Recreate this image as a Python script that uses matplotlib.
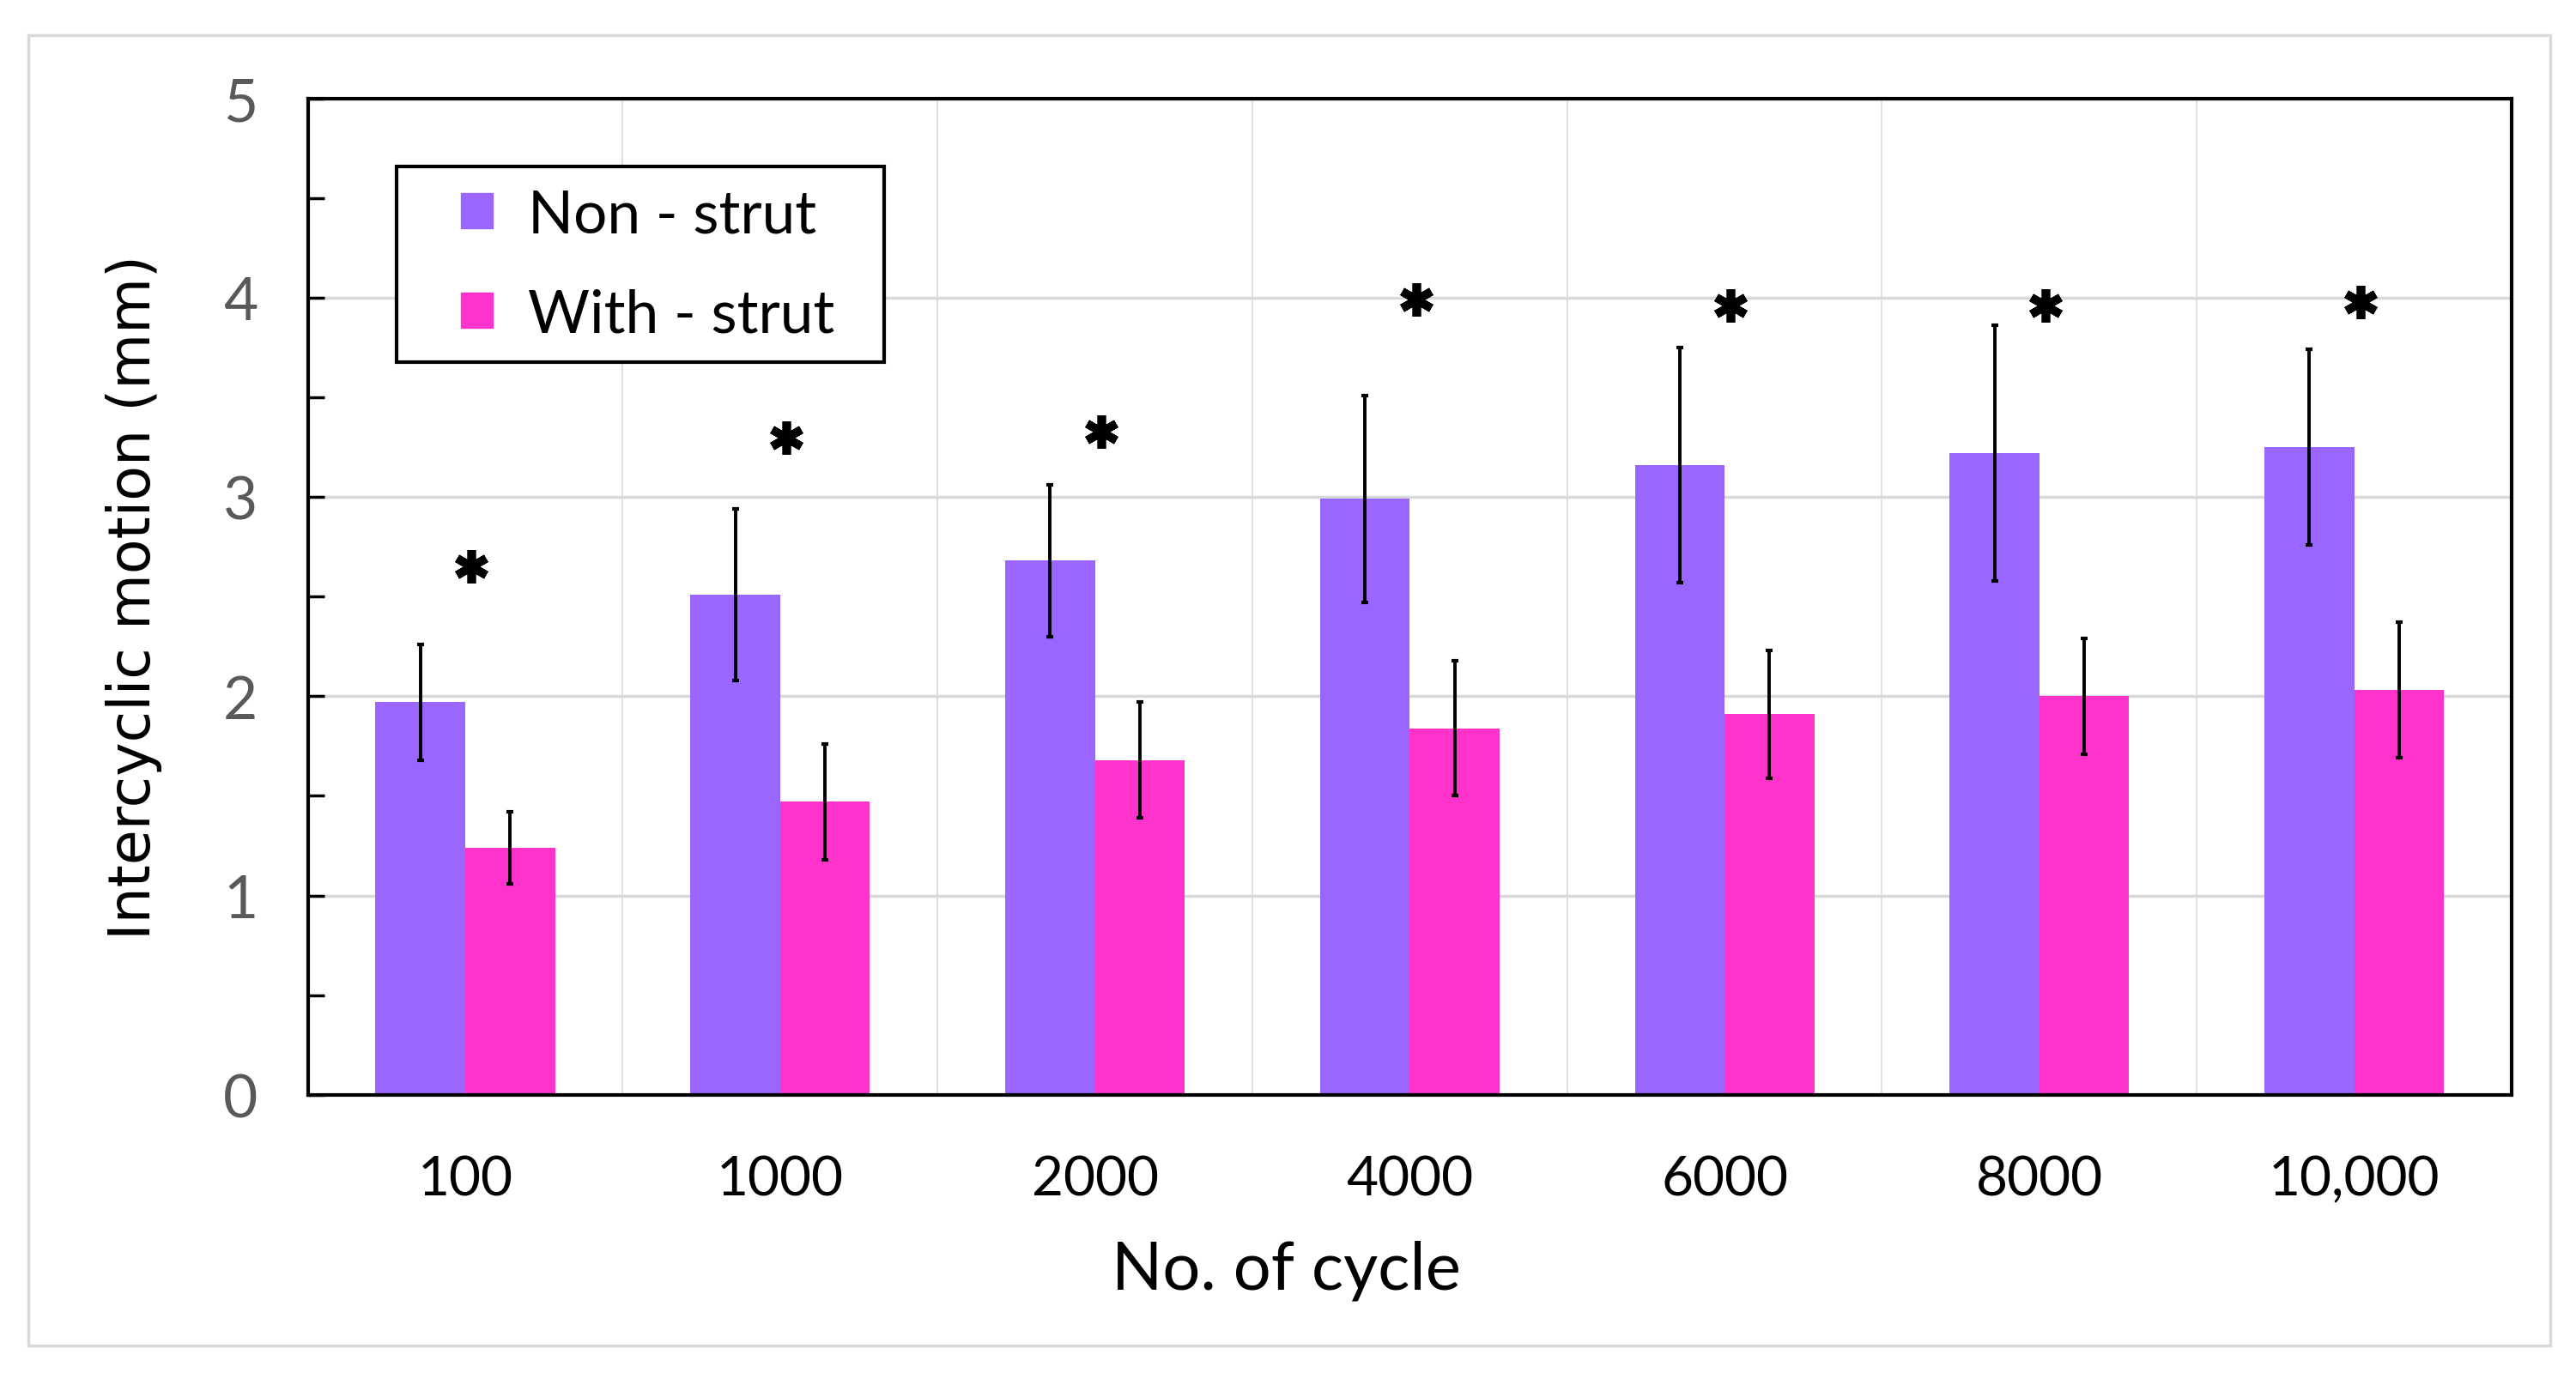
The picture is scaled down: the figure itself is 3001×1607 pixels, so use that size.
import numpy as np
import matplotlib
matplotlib.use("Agg")
import matplotlib.pyplot as plt
from matplotlib.patches import Rectangle, Patch
from matplotlib.markers import MarkerStyle

cycles = ["100", "1000", "2000", "4000", "6000", "8000", "10,000"]
non_strut = [1.97, 2.51, 2.68, 2.99, 3.16, 3.22, 3.25]
non_strut_err = [0.29, 0.43, 0.38, 0.52, 0.59, 0.64, 0.49]
with_strut = [1.24, 1.47, 1.68, 1.84, 1.91, 2.00, 2.03]
with_strut_err = [0.18, 0.29, 0.29, 0.34, 0.32, 0.29, 0.34]
star_height = [2.65, 3.30, 3.33, 3.99, 3.96, 3.96, 3.98]

purple = "#9966FF"
pink = "#FF33CC"
narrow = ["Lato", "DejaVu Sans"]

fig = plt.figure(figsize=(30.01, 16.08), dpi=100)
fig.patches.append(Rectangle((0.011, 0.024), 0.979, 0.950, transform=fig.transFigure,
                             fill=False, edgecolor="#d9d9d9", linewidth=2.5))
ax = fig.add_axes([0.1195, 0.206, 0.8555, 0.722])

x = np.arange(len(cycles))
w = 0.285
ax.bar(x - w / 2, non_strut, w, color=purple, zorder=2)
ax.bar(x + w / 2, with_strut, w, color=pink, zorder=2)
ax.errorbar(x - w / 2, non_strut, yerr=non_strut_err, fmt="none", ecolor="black",
            elinewidth=2.8, capsize=3, capthick=3, zorder=3)
ax.errorbar(x + w / 2, with_strut, yerr=with_strut_err, fmt="none", ecolor="black",
            elinewidth=2.8, capsize=3, capthick=3, zorder=3)

# significance asterisks
star = MarkerStyle((6, 2, 0), capstyle="round")
ax.plot(x + 0.02, star_height, linestyle="none", marker=star, markersize=28,
        markeredgewidth=7, color="black", zorder=4)

ax.set_xlim(-0.5, len(cycles) - 0.5)
ax.set_ylim(0, 5)
ax.set_yticks(range(6))
ax.set_yticks(np.arange(0.5, 5, 1.0), minor=True)
ax.set_xticks(x)
ax.set_xticklabels(cycles, family=narrow, fontsize=46)
for lbl in ax.get_yticklabels():
    lbl.set_family(narrow)
    lbl.set_fontsize(50)
    lbl.set_color("#595959")

ax.set_xticks(np.arange(0.5, len(cycles) - 0.5, 1.0), minor=True)
ax.grid(axis="y", which="major", color="#d9d9d9", linewidth=2.5, zorder=0)
ax.grid(axis="x", which="minor", color="#d9d9d9", linewidth=1.2, zorder=0)
ax.tick_params(axis="y", which="both", direction="in", length=14, width=2.5, pad=42)
ax.tick_params(axis="x", which="both", length=0, pad=50)
for s in ax.spines.values():
    s.set_linewidth(3)
    s.set_zorder(5)

ax.set_xlabel("No. of cycle", family=narrow, fontsize=56)
ax.xaxis.set_label_coords(0.444, -0.145)
ax.set_ylabel("Intercyclic motion (mm)", family="DejaVu Sans", fontsize=48)
ax.yaxis.set_label_coords(-0.066, 0.5)

# legend: frame drawn separately so the padding can match
ax.add_patch(Rectangle((0.0403, 0.735), 0.2214, 0.197, transform=ax.transAxes,
                       fill=True, facecolor="white", edgecolor="black", linewidth=3, zorder=6))
handles = [Patch(color=purple), Patch(color=pink)]
leg = ax.legend(handles, ["Non - strut", "With - strut"], loc="upper left",
                bbox_to_anchor=(0.0694, 0.910), prop={"family": narrow, "size": 50},
                frameon=False, handlelength=0.53, handleheight=0.53, handletextpad=0.6,
                labelspacing=0.76, borderpad=0, borderaxespad=0)
leg.set_zorder(7)

fig.savefig("out.png", dpi=100)
